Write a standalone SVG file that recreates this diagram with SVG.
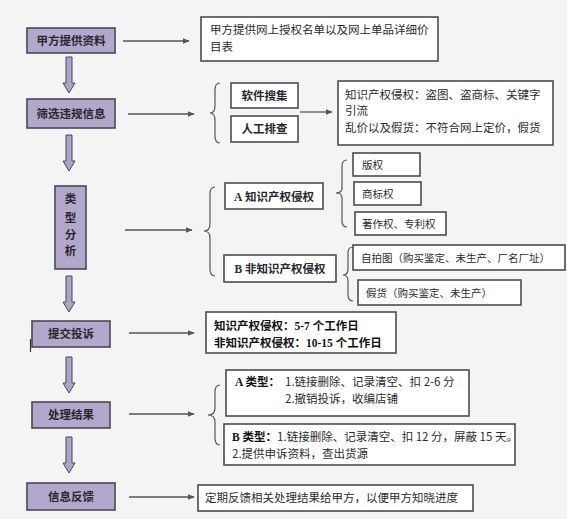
<svg xmlns="http://www.w3.org/2000/svg" width="567" height="519" viewBox="0 0 567 519">
<defs>
<style>
.bg{fill:#f4f4f5}
.step{fill:#b3a8cb;stroke:#4b4656;stroke-width:1.6}
.box{fill:#ffffff;stroke:#4b4b52;stroke-width:1.6}
.st{font-family:"Noto Sans CJK SC","Noto Sans",sans-serif;font-weight:bold;font-size:11.5px;fill:#2a2630;text-anchor:middle}
.t{font-family:"Noto Sans CJK SC","Noto Sans",sans-serif;font-size:11.5px;fill:#2c2c30}
.ts{font-family:"Noto Sans CJK SC","Noto Sans",sans-serif;font-size:10.5px;fill:#2c2c30}
.tb{font-family:"Liberation Serif","Noto Sans CJK SC",serif;font-weight:bold;font-size:11.5px;fill:#111}
.conn{stroke:#55555c;stroke-width:1.3;fill:none}
.brace{stroke:#55555c;stroke-width:1.2;fill:none}
.down{fill:#aea4c8;stroke:#4b4656;stroke-width:1}
</style>
<marker id="ah" viewBox="0 0 10 10" refX="9" refY="5" markerWidth="7" markerHeight="7" orient="auto" markerUnits="userSpaceOnUse">
<path d="M0,1 L10,5 L0,9 Z" fill="#55555c"/>
</marker>
<path id="darrow" d="M-3,0 H3 V26 H6 L0,36 L-6,26 H-3 Z"/>
</defs>
<rect class="bg" width="567" height="519"/>

<g id="connectors">
<line class="conn" x1="123" y1="41" x2="189" y2="41" marker-end="url(#ah)"/>
<line class="conn" x1="128" y1="114" x2="194" y2="114" marker-end="url(#ah)"/>
<line class="conn" x1="300" y1="112" x2="332" y2="112" marker-end="url(#ah)"/>
<line class="conn" x1="125" y1="230" x2="192" y2="230" marker-end="url(#ah)"/>
<line class="conn" x1="129" y1="333" x2="194" y2="333" marker-end="url(#ah)"/>
<line class="conn" x1="129" y1="414" x2="194" y2="414" marker-end="url(#ah)"/>
<line class="conn" x1="129" y1="497" x2="194" y2="497" marker-end="url(#ah)"/>
<use href="#darrow" class="down" x="69" y="57"/>
<use href="#darrow" class="down" x="69" y="135"/>
<use href="#darrow" class="down" x="69" y="276"/>
<use href="#darrow" class="down" x="69" y="357"/>
<use href="#darrow" class="down" x="69" y="437"/>
<path class="brace" d="M220,83 Q215,83 215,90 V106 Q215,113 210,113 Q215,113 215,120 V136 Q215,143 220,143"/>
<path class="brace" d="M215,187 Q210,187 210,194 V224 Q210,231 204,231 Q210,231 210,238 V269 Q210,276 215,276"/>
<path class="brace" d="M347,160 Q342,160 342,166 V188 Q342,193 336,193 Q342,193 342,198 V221 Q342,227 347,227"/>
<path class="brace" d="M353,247 Q348,247 348,253 V269 Q348,275 343,275 Q348,275 348,281 V295 Q348,301 353,301"/>
<path class="brace" d="M220,385 Q215,385 215,392 V408 Q215,415 208,415 Q215,415 215,422 V438 Q215,445 220,445"/>
<line x1="30.5" y1="339" x2="30.5" y2="352" stroke="#333" stroke-width="1.2"/>
</g>

<g id="n1"><rect class="step" x="27" y="28" width="88" height="25"/><text class="st" x="71" y="45">甲方提供资料</text></g>
<g id="n2"><rect class="step" x="27" y="99" width="88" height="29"/><text class="st" x="71" y="118">筛选违规信息</text></g>
<g id="n3"><rect class="step" x="55" y="186" width="31" height="83"/>
<text class="st" x="70.5" y="203">类</text><text class="st" x="70.5" y="222">型</text><text class="st" x="70.5" y="239">分</text><text class="st" x="70.5" y="255">析</text></g>
<g id="n4"><rect class="step" x="32" y="321" width="78" height="26"/><text class="st" x="71" y="338">提交投诉</text></g>
<g id="n5"><rect class="step" x="32" y="402" width="78" height="26"/><text class="st" x="71" y="419">处理结果</text></g>
<g id="n6"><rect class="step" x="27" y="483" width="88" height="27"/><text class="st" x="71" y="501">信息反馈</text></g>

<g id="r1"><rect class="box" x="201" y="17" width="237" height="44"/>
<text class="t" x="210" y="34">甲方提供网上授权名单以及网上单品详细价</text>
<text class="t" x="210" y="51">目表</text></g>
<g id="r2a"><rect class="box" x="231" y="83" width="67" height="25"/><text class="st" x="264.5" y="100">软件搜集</text></g>
<g id="r2b"><rect class="box" x="231" y="116" width="67" height="26"/><text class="st" x="264.5" y="133">人工排查</text></g>
<g id="r2c"><rect class="box" x="338" y="81" width="215" height="64"/>
<text class="t" x="345" y="99">知识产权侵权：盗图、盗商标、关键字</text>
<text class="t" x="345" y="115">引流</text>
<text class="t" x="345" y="132">乱价以及假货：不符合网上定价，假货</text></g>

<g id="r3a"><rect class="box" x="225" y="183" width="98" height="26"/><text class="st" x="274" y="201"><tspan font-family="Liberation Serif,serif">A</tspan> 知识产权侵权</text></g>
<g id="r3b"><rect class="box" x="224" y="255" width="112" height="27"/><text class="st" x="280" y="273"><tspan font-family="Liberation Serif,serif">B</tspan> 非知识产权侵权</text></g>
<g id="r3a1"><rect class="box" x="353" y="153" width="67" height="23"/><text class="ts" x="362" y="169">版权</text></g>
<g id="r3a2"><rect class="box" x="354" y="182" width="67" height="23"/><text class="ts" x="362" y="198">商标权</text></g>
<g id="r3a3"><rect class="box" x="355" y="212" width="91" height="23"/><text class="ts" x="362" y="228">著作权、专利权</text></g>
<g id="r3b1"><rect class="box" x="353" y="245" width="212" height="25"/><text class="ts" x="361" y="262">自拍图（购买鉴定、未生产、厂名厂址）</text></g>
<g id="r3b2"><rect class="box" x="358" y="280" width="163" height="25"/><text class="ts" x="366" y="297">假货（购买鉴定、未生产）</text></g>

<g id="r4"><rect class="box" x="206" y="312" width="190" height="41"/>
<text class="tb" x="214" y="330">知识产权侵权：5-7 个工作日</text>
<text class="tb" x="214" y="347">非知识产权侵权：10-15 个工作日</text></g>

<g id="r5a"><rect class="box" x="226" y="370" width="243" height="46"/>
<text class="tb" x="235" y="386">A 类型：</text>
<text class="t" x="285" y="386" font-size="10.8px">1.链接删除、记录清空、扣 2-6 分</text>
<text class="t" x="285" y="403" font-size="10.8px">2.撤销投诉，收编店铺</text></g>
<g id="r5b"><rect class="box" x="224" y="424" width="291" height="41"/>
<text x="232" y="441"><tspan class="tb">B 类型：</tspan><tspan class="t" font-size="10.6px">1.链接删除、记录清空、扣 12 分，屏蔽 15 天。</tspan></text>
<text class="t" x="232" y="458" font-size="10.8px">2.提供申诉资料，查出货源</text></g>

<g id="r6"><rect class="box" x="198" y="485" width="275" height="26"/>
<text class="t" x="205" y="502">定期反馈相关处理结果给甲方，以便甲方知晓进度</text></g>
</svg>
